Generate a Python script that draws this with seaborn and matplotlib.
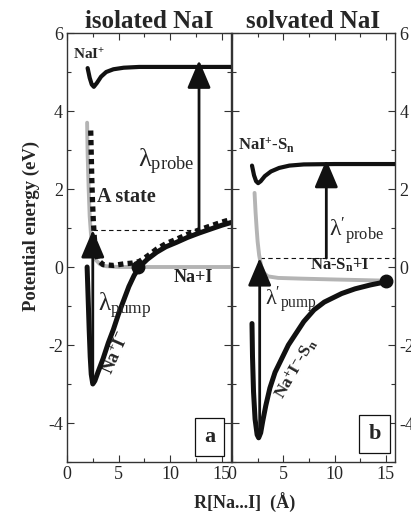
import matplotlib
matplotlib.use("Agg")
import matplotlib.pyplot as plt
import seaborn as sns
import pandas as pd
from matplotlib.ticker import MultipleLocator

# ---------------- data ----------------
# panel a : isolated NaI
a_cation_R = [2.0, 2.2, 2.4, 2.6, 2.9, 3.3, 3.8, 4.5, 5.5, 7.0, 10.0, 15.9]
a_cation_E = [5.1, 4.85, 4.68, 4.62, 4.72, 4.88, 5.0, 5.07, 5.11, 5.13, 5.13, 5.13]

a_ionic_R = [1.95, 2.05, 2.15, 2.25, 2.35, 2.5, 2.7, 3.0, 3.5, 4.0, 4.5, 5.0, 5.5,
             6.0, 6.5, 7.0, 7.8, 8.7, 9.6, 10.6, 11.7, 12.8, 14.0, 15.0, 15.9]
a_ionic_E = [0.0, -0.8, -1.6, -2.3, -2.75, -3.0, -2.92, -2.7, -2.35, -1.95, -1.6, -1.2, -0.85,
             -0.5, -0.22, 0.0, 0.2, 0.38, 0.52, 0.63, 0.76, 0.87, 0.98, 1.07, 1.14]

a_cov_R = [1.95, 2.0, 2.1, 2.2, 2.35, 2.55, 2.8, 3.2, 3.8, 5.0, 10.0, 15.9]
a_cov_E = [3.7, 2.9, 2.0, 1.3, 0.75, 0.4, 0.18, 0.07, 0.02, 0.0, 0.0, 0.0]

a_Astate_R = [2.3, 2.35, 2.4, 2.47, 2.55, 2.65, 2.8, 3.0, 3.5, 4.5, 5.5, 6.3, 7.0,
              7.8, 8.7, 9.6, 10.6, 11.7, 12.8, 14.0, 15.0, 15.9]
a_Astate_E = [3.5, 2.9, 2.3, 1.7, 1.2, 0.75, 0.4, 0.18, 0.06, 0.04, 0.08, 0.1, 0.14,
              0.28, 0.46, 0.6, 0.71, 0.84, 0.95, 1.06, 1.15, 1.22]

a_cross = (6.9, 0.0)
a_pump = (2.5, -2.95, 0.95)      # x, from, to
a_probe = (12.8, 0.95, 5.3)
a_dash = (2.5, 12.8, 0.95)       # x0, x1, y

# panel b : solvated NaI
b_cation_R = [1.95, 2.15, 2.35, 2.55, 2.8, 3.2, 3.8, 4.6, 5.6, 7.0, 10.0, 15.9]
b_cation_E = [2.6, 2.35, 2.2, 2.15, 2.2, 2.33, 2.45, 2.54, 2.6, 2.63, 2.64, 2.64]

b_ionic_R = [1.95, 2.0, 2.1, 2.25, 2.45, 2.6, 2.8, 3.0, 3.3, 3.7, 4.2, 4.85, 5.5,
             6.5, 7.0, 8.0, 9.0, 10.7, 12.0, 13.5, 15.0]
b_ionic_E = [-1.45, -2.3, -3.2, -3.9, -4.3, -4.38, -4.25, -3.95, -3.55, -3.1, -2.7, -2.35, -2.0,
             -1.6, -1.4, -1.1, -0.9, -0.68, -0.56, -0.46, -0.38]

b_cov_R = [2.2, 2.3, 2.4, 2.5, 2.65, 2.85, 3.1, 3.5, 4.5, 7.0, 10.0, 15.0]
b_cov_E = [1.9, 1.4, 1.0, 0.65, 0.3, 0.02, -0.15, -0.24, -0.28, -0.3, -0.32, -0.35]

b_cross = (15.0, -0.37)
b_pump = (2.7, -4.35, 0.23)
b_probe = (9.2, 0.23, 2.75)
b_dash = (2.7, 16.0, 0.23)

x_ticks = [0, 5, 10, 15]
y_ticks = [-4, -2, 0, 2, 4, 6]

# ---------------- style ----------------
sns.set_theme(style="ticks")
plt.rcParams["font.family"] = ["Liberation Serif", "DejaVu Serif"]
plt.rcParams["axes.unicode_minus"] = False
plt.rcParams["mathtext.fontset"] = "custom"
plt.rcParams["mathtext.rm"] = "Liberation Serif"
plt.rcParams["mathtext.bf"] = "Liberation Serif:bold"
plt.rcParams["mathtext.it"] = "Liberation Serif:italic"

fig = plt.figure(figsize=(4.11, 5.12), dpi=100)
bottom, height = 1 - 462 / 512, 429 / 512
ax_a = fig.add_axes([67 / 411, bottom, 164 / 411, height])
ax_b = fig.add_axes([232 / 411, bottom, 163 / 411, height])

GRAY = "#b4b4b4"
BLACK = "#111111"


def curve(ax, R, E, **kw):
    df = pd.DataFrame({"R": R, "E": E})
    sns.lineplot(data=df, x="R", y="E", ax=ax, sort=False, estimator=None,
                 legend=False, **kw)


def arrow(ax, spec):
    x, y0, y1 = spec
    ax.annotate("", xy=(x, y1), xytext=(x, y0),
                arrowprops=dict(arrowstyle="-|>,head_length=0.85,head_width=0.36",
                                mutation_scale=20, lw=2.0, color=BLACK,
                                shrinkA=0, shrinkB=0), zorder=6)


def dashed(ax, spec):
    x0, x1, y = spec
    ax.plot([x0, x1], [y, y], ls=(0, (4, 3)), lw=0.8, color=BLACK, zorder=2)


# panel a curves
curve(ax_a, a_cov_R, a_cov_E, color=GRAY, lw=2.8, zorder=3)
curve(ax_a, a_ionic_R, a_ionic_E, color=BLACK, lw=3.6, zorder=4)
curve(ax_a, a_cation_R, a_cation_E, color=BLACK, lw=3.0, zorder=4)
curve(ax_a, a_Astate_R, a_Astate_E, color=BLACK, lw=3.8, linestyle=(0, (1, 0.8)), zorder=5)
dashed(ax_a, a_dash)
arrow(ax_a, a_pump)
arrow(ax_a, a_probe)
ax_a.plot(*a_cross, "o", ms=9, color=BLACK, zorder=7)

# panel b curves
curve(ax_b, b_cov_R, b_cov_E, color=GRAY, lw=2.8, zorder=3)
curve(ax_b, b_ionic_R, b_ionic_E, color=BLACK, lw=3.6, zorder=4)
curve(ax_b, b_cation_R, b_cation_E, color=BLACK, lw=3.0, zorder=4)
dashed(ax_b, b_dash)
arrow(ax_b, b_pump)
arrow(ax_b, b_probe)
ax_b.plot(*b_cross, "o", ms=9, color=BLACK, zorder=7)

# axes formatting
for ax, title in [(ax_a, "isolated NaI"), (ax_b, "solvated NaI")]:
    ax.set_xlim(0, 15.9)
    ax.set_ylim(-5, 6)
    ax.set_xticks(x_ticks)
    ax.set_yticks(y_ticks)
    ax.xaxis.set_minor_locator(MultipleLocator(2.5))
    ax.yaxis.set_minor_locator(MultipleLocator(1))
    ax.tick_params(which="both", direction="in", top=True, right=True,
                   labelsize=13, pad=3, color="#333333", width=0.8)
    ax.tick_params(which="major", length=5)
    ax.tick_params(which="minor", length=3)
    for s in ax.spines.values():
        s.set_linewidth(1.0)
        s.set_color("#333333")
    ax.set_xlabel("")
    ax.set_ylabel("")
    ax.set_title(title, fontsize=18, fontweight="bold", pad=2)

ax_a.tick_params(labelleft=True, labelright=False)
ax_b.tick_params(labelleft=False, labelright=True)

fig.text(31 / 411, 1 - 226 / 512, "Potential energy (eV)", rotation=90,
         ha="center", va="center", fontsize=13.5, fontweight="bold")
fig.text(245 / 411, 1 - 503 / 512, "R[Na...I]  (Å)", ha="center", va="center",
         fontsize=13, fontweight="bold")

# annotations panel a
ax_a.text(0.58, 5.44, r"NaI$^{\mathbf{+}}$", fontsize=11, fontweight="bold",
          ha="left", va="center")
ax_a.text(2.9, 1.8, "A state", fontsize=14.5, fontweight="bold", ha="left", va="center",
          zorder=8)
ax_a.text(6.9, 2.55, r"$\mathrm{λ}_{\mathrm{probe}}$", fontsize=19, ha="left",
          va="baseline")
ax_a.text(10.3, -0.28, "Na+I", fontsize=13, fontweight="bold", ha="left",
          va="center", color="#222222")
ax_a.text(3.0, -1.15, r"$\mathrm{λ}_{\mathrm{pump}}$", fontsize=18, ha="left",
          va="baseline", zorder=8)
ax_a.text(4.75, -2.18, r"Na$^{\mathbf{+}}$I$^{\mathbf{-}}$", fontsize=13, fontweight="bold",
          rotation=66, ha="center", va="center", rotation_mode="anchor")
ax_a.text(13.85, -4.36, "a", fontsize=16, fontweight="bold", ha="center", va="center",
          bbox=dict(boxstyle="square,pad=0.4", fc="white", ec=BLACK, lw=0.9))

# annotations panel b
ax_b.text(0.6, 3.13, r"NaI$^{\mathbf{+}}$-S$_{\mathbf{n}}$", fontsize=12, fontweight="bold",
          ha="left", va="center")
ax_b.text(9.5, 0.8, r"$\mathrm{λ}'_{\mathrm{probe}}$", fontsize=17, ha="left",
          va="baseline")
ax_b.text(7.6, 0.05, r"Na-S$_{\mathbf{n}}$+I", fontsize=12, fontweight="bold",
          ha="left", va="center", color="#222222", zorder=8)
ax_b.text(3.2, -0.97, r"$\mathrm{λ}'_{\mathrm{pump}}$", fontsize=16, ha="left",
          va="baseline", zorder=8)
ax_b.text(6.2, -2.6, r"Na$^{\mathbf{+}}$I$^{\mathbf{-}}$-S$_{\mathbf{n}}$", fontsize=12.5,
          fontweight="bold", rotation=60, ha="center", va="center", rotation_mode="anchor")
ax_b.text(13.9, -4.28, "b", fontsize=16, fontweight="bold", ha="center", va="center",
          bbox=dict(boxstyle="square,pad=0.4", fc="white", ec=BLACK, lw=0.9))

fig.savefig("out.png", dpi=100)
